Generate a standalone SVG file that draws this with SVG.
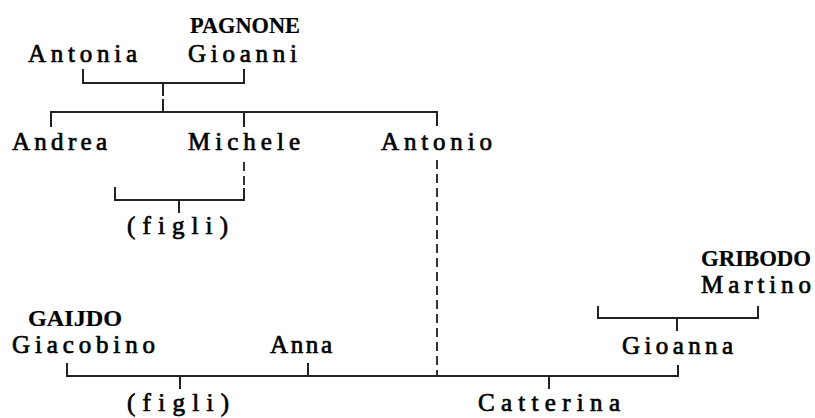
<svg xmlns="http://www.w3.org/2000/svg" width="815" height="418" viewBox="0 0 815 418">
<style>
text{font-family:"Liberation Serif","DejaVu Serif",serif;font-size:25px;fill:#000;stroke:#000;stroke-width:0.7}
.c{font-weight:bold;font-size:23px;stroke-width:0.2}
.l{fill:none;stroke:#222;stroke-width:2}
.d{fill:none;stroke:#333;stroke-width:2;stroke-dasharray:9 5}
</style>
<rect width="815" height="418" fill="#fff"/>
<g id="connectors">
<path class="l" d="M83,69V83H244V69"/>
<path class="l" d="M163,83V96M163,99V112"/>
<path class="l" d="M51,127V112H437V126"/>
<path class="l" d="M244,112V127"/>
<path class="d" d="M244,162V188"/>
<path class="l" d="M115,187V200H244V188"/>
<path class="l" d="M179,200V213"/>
<path class="d" d="M437,160V376"/>
<path class="l" d="M67,363V376H678V365"/>
<path class="l" d="M308,363V376"/>
<path class="l" d="M180,376V389"/>
<path class="l" d="M549,376V389"/>
<path class="l" d="M598,306V318H758V306"/>
<path class="l" d="M677,318V331"/>
</g>
<g id="pagnone"><text class="c" x="190" y="33" textLength="110" lengthAdjust="spacingAndGlyphs">PAGNONE</text><text x="188" y="62" textLength="109" lengthAdjust="spacing">Gioanni</text></g>
<g id="antonia"><text x="28" y="62" textLength="109" lengthAdjust="spacing">Antonia</text></g>
<g id="andrea"><text x="12" y="150" textLength="95" lengthAdjust="spacing">Andrea</text></g>
<g id="michele"><text x="188" y="150" textLength="112" lengthAdjust="spacing">Michele</text></g>
<g id="antonio"><text x="381" y="150" textLength="111" lengthAdjust="spacing">Antonio</text></g>
<g id="figli1"><text x="127" y="234" textLength="101" lengthAdjust="spacing">(figli)</text></g>
<g id="gribodo"><text class="c" x="701" y="266" textLength="110" lengthAdjust="spacingAndGlyphs">GRIBODO</text><text x="701" y="293" textLength="110" lengthAdjust="spacing">Martino</text></g>
<g id="gaijdo"><text class="c" x="28" y="326" textLength="94" lengthAdjust="spacingAndGlyphs">GAIJDO</text><text x="12" y="353" textLength="143" lengthAdjust="spacing">Giacobino</text></g>
<g id="anna"><text x="270" y="353" textLength="62" lengthAdjust="spacing">Anna</text></g>
<g id="gioanna"><text x="622" y="354" textLength="111" lengthAdjust="spacing">Gioanna</text></g>
<g id="figli2"><text x="127" y="411" textLength="102" lengthAdjust="spacing">(figli)</text></g>
<g id="catterina"><text x="478" y="411" textLength="142" lengthAdjust="spacing">Catterina</text></g>
</svg>
